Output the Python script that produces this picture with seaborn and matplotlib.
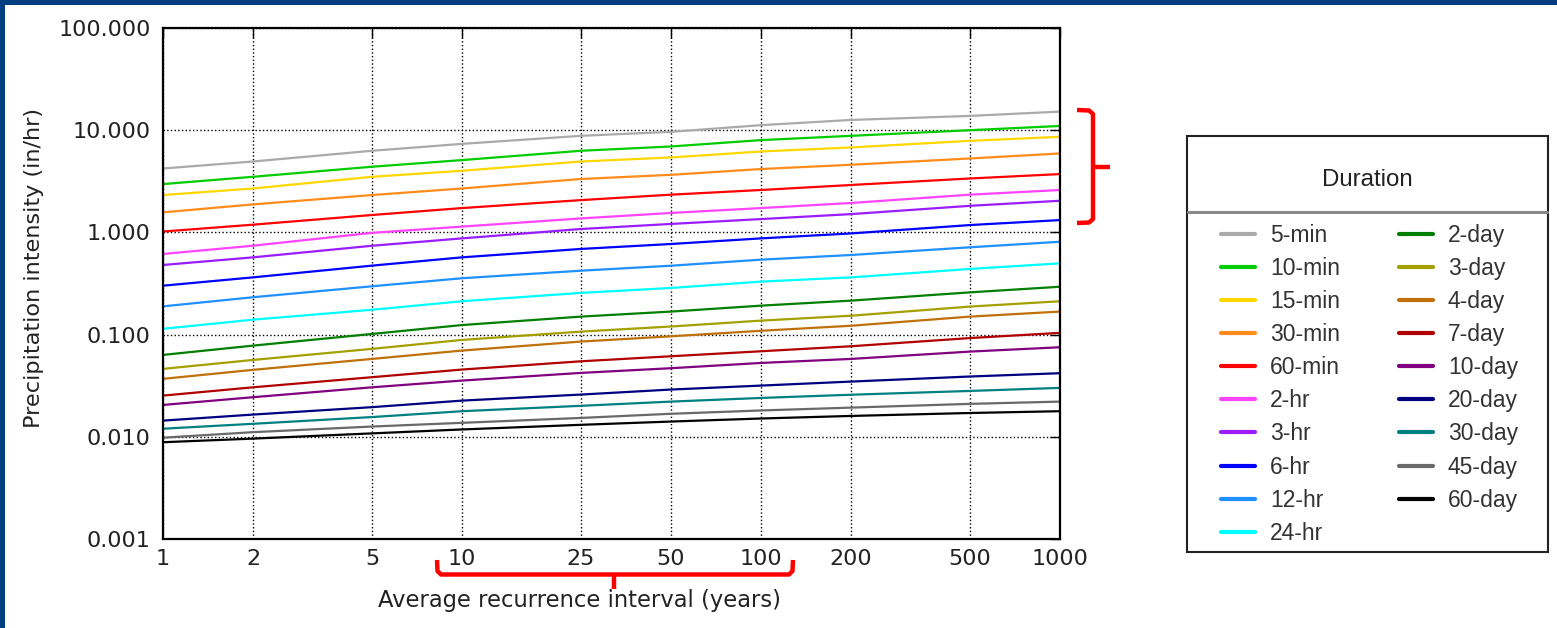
import numpy as np
import pandas as pd
import matplotlib
matplotlib.use("Agg")
import matplotlib.pyplot as plt
import seaborn as sns
from matplotlib.lines import Line2D
from matplotlib.patches import Rectangle

# ---------------- data ----------------
ari_years = [1, 2, 5, 10, 25, 50, 100, 200, 500, 1000]
x_tick_labels = ["1", "2", "5", "10", "25", "50", "100", "200", "500", "1000"]
y_ticks = [0.001, 0.01, 0.1, 1, 10, 100]
y_tick_labels = ["0.001", "0.010", "0.100", "1.000", "10.000", "100.000"]

durations = ["5-min", "10-min", "15-min", "30-min", "60-min", "2-hr", "3-hr",
             "6-hr", "12-hr", "24-hr", "2-day", "3-day", "4-day", "7-day",
             "10-day", "20-day", "30-day", "45-day", "60-day"]

i_5min = [4.22, 4.94, 6.29, 7.35, 8.81, 9.64, 11.2, 12.6, 13.8, 15.2]
i_10min = [2.97, 3.50, 4.39, 5.10, 6.29, 6.93, 8.00, 8.81, 10.0, 11.0]
i_15min = [2.32, 2.69, 3.50, 4.01, 4.94, 5.41, 6.19, 6.78, 7.87, 8.62]
i_30min = [1.57, 1.88, 2.32, 2.69, 3.33, 3.66, 4.17, 4.59, 5.29, 5.92]
i_60min = [1.02, 1.19, 1.48, 1.73, 2.07, 2.34, 2.60, 2.91, 3.37, 3.72]
i_2hr = [0.615, 0.741, 0.990, 1.14, 1.37, 1.55, 1.73, 1.94, 2.34, 2.60]
i_3hr = [0.480, 0.570, 0.740, 0.874, 1.08, 1.21, 1.35, 1.51, 1.82, 2.04]
i_6hr = [0.301, 0.363, 0.473, 0.570, 0.689, 0.770, 0.874, 0.977, 1.18, 1.32]
i_12hr = [0.189, 0.232, 0.297, 0.356, 0.422, 0.472, 0.541, 0.601, 0.715, 0.810]
i_24hr = [0.114, 0.140, 0.175, 0.212, 0.256, 0.286, 0.330, 0.363, 0.439, 0.498]
i_2day = [0.0633, 0.078, 0.1015, 0.124, 0.150, 0.168, 0.192, 0.215, 0.259, 0.294]
i_3day = [0.0462, 0.0565, 0.0725, 0.0887, 0.107, 0.120, 0.137, 0.153, 0.188, 0.212]
i_4day = [0.0369, 0.0452, 0.0578, 0.0698, 0.0855, 0.0962, 0.109, 0.122, 0.150, 0.168]
i_7day = [0.0253, 0.0305, 0.0383, 0.0455, 0.0548, 0.0614, 0.0687, 0.0769, 0.0925, 0.104]
i_10day = [0.0205, 0.0244, 0.0305, 0.0355, 0.0422, 0.0469, 0.0528, 0.0578, 0.0682, 0.0752]
i_20day = [0.0144, 0.0165, 0.0195, 0.0226, 0.0259, 0.0290, 0.0317, 0.0347, 0.0389, 0.0419]
i_30day = [0.0120, 0.0134, 0.0156, 0.0178, 0.0201, 0.0221, 0.0240, 0.0258, 0.0281, 0.0301]
i_45day = [0.0098, 0.0111, 0.0126, 0.0137, 0.0153, 0.0168, 0.0181, 0.0193, 0.0210, 0.0221]
i_60day = [0.00885, 0.0096, 0.0108, 0.0118, 0.0131, 0.0141, 0.0151, 0.0160, 0.0171, 0.0178]

series = [i_5min, i_10min, i_15min, i_30min, i_60min, i_2hr, i_3hr, i_6hr,
          i_12hr, i_24hr, i_2day, i_3day, i_4day, i_7day, i_10day, i_20day,
          i_30day, i_45day, i_60day]

colors = ["#aaaaaa", "#00cc00", "#ffd700", "#ff8c1a", "#ff0000", "#ff44ff",
          "#9a1cff", "#0000ff", "#1e90ff", "#00ffff", "#007f00", "#a3a000",
          "#c0700a", "#b00000", "#800080", "#000080", "#008080", "#696969",
          "#000000"]

df = pd.DataFrame({
    "ari": np.tile(ari_years, len(durations)),
    "intensity": np.concatenate(series),
    "duration": np.repeat(durations, len(ari_years)),
})
palette = dict(zip(durations, colors))

# ---------------- figure ----------------
sns.set_theme(style="white")
plt.rcParams["font.family"] = ["DejaVu Sans"]

W, H = 1557, 628
fig = plt.figure(figsize=(W / 100, H / 100), dpi=100)
fig.patch.set_facecolor("white")

def fx(px):
    return px / W

def fy(py):
    return 1 - py / H

ax = fig.add_axes([fx(163), fy(539), fx(1060) - fx(163), fy(28) - fy(539)])

sns.lineplot(data=df, x="ari", y="intensity", hue="duration",
             hue_order=durations, palette=palette, linewidth=1.6,
             legend=False, estimator=None, sort=False, ax=ax)

ax.set_xscale("log")
ax.set_yscale("log")
ax.set_xlim(1, 1000)
ax.set_ylim(0.001, 100)
ax.set_xticks(ari_years)
ax.set_xticklabels(x_tick_labels)
ax.set_yticks(y_ticks)
ax.set_yticklabels(y_tick_labels)
ax.minorticks_off()
ax.tick_params(axis="both", which="major", direction="in", length=7, width=1,
               color="black", labelsize=16, top=True, right=True,
               labelcolor="#222222")
ax.tick_params(axis="y", pad=9)
ax.tick_params(axis="x", pad=7)
ax.grid(True, which="major", linestyle=":", color="black", linewidth=1)
ax.set_axisbelow(True)
for s in ax.spines.values():
    s.set_color("black")
    s.set_linewidth(1.6)

ax.set_xlabel("Average recurrence interval (years)", fontsize=16.3, color="#222222")
ax.set_ylabel("Precipitation intensity (in/hr)", fontsize=16.1, color="#222222")
ax.xaxis.set_label_coords((580 - 163) / 897, (539 - 589) / 511)
ax.yaxis.set_label_coords((44 - 163) / 897, (539 - 267.5) / 511)

# ---------------- legend ----------------
box = Rectangle((fx(1187), fy(552)), fx(1548) - fx(1187), fy(136) - fy(552),
                transform=fig.transFigure, facecolor="white", edgecolor="#222222",
                linewidth=1.5, zorder=5)
fig.patches.append(box)
fig.add_artist(Line2D([fx(1188), fx(1547)], [fy(212), fy(212)],
                      transform=fig.transFigure, color="#8a8a8a",
                      linewidth=2.2, zorder=6))
fig.text(fx(1367), fy(180), "Duration", ha="center", va="center",
         fontsize=17.3, family=["Liberation Sans", "DejaVu Sans"],
         color="#222222", zorder=7)

handles = ax.get_lines()[:len(durations)]
leg = fig.legend(handles, durations, ncol=2, loc="upper left",
                 bbox_to_anchor=(fx(1221), fy(224)),
                 frameon=False, borderpad=0, borderaxespad=0,
                 handlelength=1.5, handletextpad=0.65, columnspacing=2.55,
                 labelspacing=0.44,
                 prop={"family": ["Liberation Sans", "DejaVu Sans"], "size": 16.5})
for t in leg.get_texts():
    t.set_color("#333333")
for h in leg.legend_handles:
    h.set_linewidth(3)
leg.set_zorder(8)

# ---------------- red brackets ----------------
red_kw = dict(transform=fig.transFigure, color="#ff0000", linewidth=3.2,
              solid_joinstyle="round", solid_capstyle="butt", zorder=9)
# right bracket
fig.add_artist(Line2D([fx(1077), fx(1089), fx(1093), fx(1093), fx(1089), fx(1077)],
                      [fy(110), fy(110.5), fy(114), fy(219), fy(222.5), fy(223)], **red_kw))
fig.add_artist(Line2D([fx(1093), fx(1110)], [fy(166.5), fy(166.5)], **red_kw))
# bottom bracket
fig.add_artist(Line2D([fx(437), fx(437.5), fx(441), fx(789), fx(792.5), fx(793)],
                      [fy(560), fy(571), fy(574.5), fy(574.5), fy(571), fy(560)], **red_kw))
fig.add_artist(Line2D([fx(614), fx(614)], [fy(574.5), fy(589)], **red_kw))

# ---------------- navy frame (top & left) ----------------
navy = "#003f7f"
fig.patches.append(Rectangle((0, fy(5)), 1, fy(0) - fy(5), transform=fig.transFigure,
                             facecolor=navy, edgecolor="none", zorder=10))
fig.patches.append(Rectangle((0, 0), fx(5), 1, transform=fig.transFigure,
                             facecolor=navy, edgecolor="none", zorder=10))

fig.savefig("out.png", dpi=100, facecolor="white")
